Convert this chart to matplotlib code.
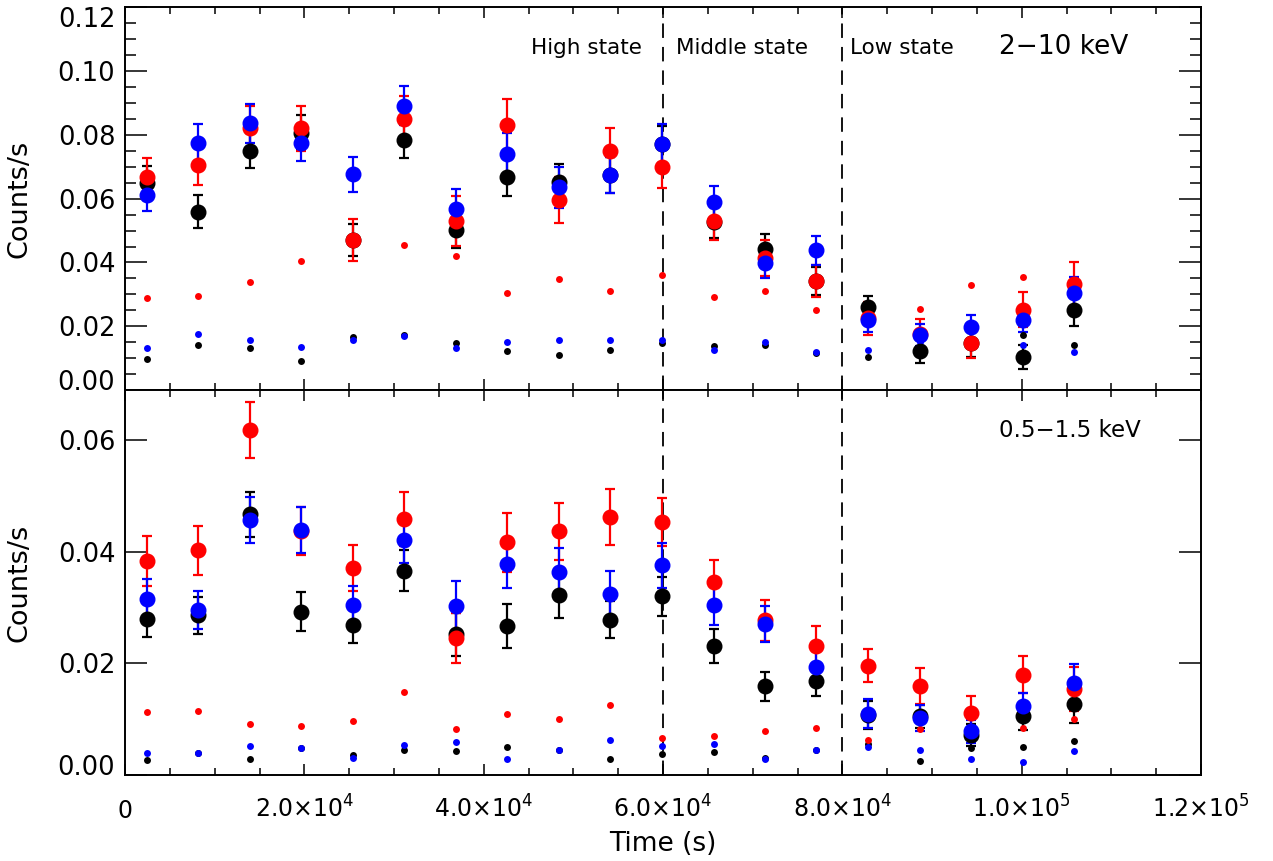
import matplotlib
matplotlib.use("Agg")
import matplotlib.pyplot as plt
from matplotlib.ticker import MultipleLocator, FixedLocator, FixedFormatter

plt.rcParams['font.family'] = ['DejaVu Sans']
plt.rcParams['mathtext.fontset'] = 'dejavusans'

# bin centres (s)
times = [2418, 8134, 13894, 19610, 25370, 31120, 36880, 42600, 48390, 54110,
         59865, 65630, 71380, 77060, 82860, 88610, 94370, 100090, 105850]

# 2-10 keV: source rates with errors, plus background rates
hard_black = [0.0650, 0.0559, 0.0750, 0.0807, 0.0471, 0.0783, 0.0502, 0.0669, 0.0653, 0.0675,
              0.0771, 0.0528, 0.0442, 0.0343, 0.0261, 0.0122, 0.0148, 0.0103, 0.0252]
hard_black_err = [0.0053, 0.0052, 0.0055, 0.0055, 0.0050, 0.0057, 0.0057, 0.0061, 0.0057, 0.0057,
                  0.0058, 0.0052, 0.0048, 0.0044, 0.0035, 0.0036, 0.0045, 0.0037, 0.0050]
hard_red = [0.0668, 0.0705, 0.0822, 0.0820, 0.0471, 0.0849, 0.0531, 0.0831, 0.0596, 0.0750,
            0.0700, 0.0529, 0.0414, 0.0343, 0.0225, 0.0177, 0.0146, 0.0252, 0.0333]
hard_red_err = [0.0061, 0.0062, 0.0068, 0.0070, 0.0066, 0.0073, 0.0078, 0.0080, 0.0072, 0.0070,
                0.0068, 0.0058, 0.0057, 0.0050, 0.0051, 0.0046, 0.0047, 0.0054, 0.0069]
hard_blue = [0.0613, 0.0776, 0.0836, 0.0776, 0.0676, 0.0892, 0.0569, 0.0741, 0.0635, 0.0675,
             0.0771, 0.0588, 0.0398, 0.0438, 0.0221, 0.0172, 0.0197, 0.0221, 0.0304]
hard_blue_err = [0.0052, 0.0059, 0.0060, 0.0058, 0.0055, 0.0062, 0.0062, 0.0066, 0.0063, 0.0057,
                 0.0062, 0.0052, 0.0046, 0.0046, 0.0040, 0.0035, 0.0037, 0.0039, 0.0050]
hard_black_bkg = [0.0096, 0.0141, 0.0131, 0.0092, 0.0166, 0.0174, 0.0148, 0.0122, 0.0109, 0.0125,
                  0.0148, 0.0138, 0.0142, 0.0115, 0.0104, 0.0130, 0.0140, 0.0171, 0.0142]
hard_red_bkg = [0.0288, 0.0294, 0.0339, 0.0406, 0.0460, 0.0455, 0.0419, 0.0305, 0.0349, 0.0309,
                0.0361, 0.0292, 0.0311, 0.0252, 0.0265, 0.0254, 0.0328, 0.0354, 0.0335]
hard_blue_bkg = [0.0131, 0.0177, 0.0156, 0.0134, 0.0156, 0.0169, 0.0131, 0.0152, 0.0158, 0.0157,
                 0.0157, 0.0125, 0.0150, 0.0120, 0.0127, 0.0150, 0.0160, 0.0141, 0.0119]

# 0.5-1.5 keV
soft_black = [0.0280, 0.0286, 0.0467, 0.0293, 0.0268, 0.0366, 0.0252, 0.0267, 0.0322, 0.0278,
              0.0320, 0.0231, 0.0159, 0.0169, 0.0108, 0.0105, 0.0072, 0.0105, 0.0127]
soft_black_err = [0.0032, 0.0033, 0.0040, 0.0035, 0.0032, 0.0037, 0.0039, 0.0040, 0.0040, 0.0033,
                  0.0035, 0.0031, 0.0026, 0.0028, 0.0025, 0.0021, 0.0020, 0.0024, 0.0033]
soft_red = [0.0383, 0.0403, 0.0619, 0.0437, 0.0371, 0.0459, 0.0246, 0.0417, 0.0437, 0.0462,
            0.0453, 0.0346, 0.0277, 0.0232, 0.0196, 0.0160, 0.0112, 0.0180, 0.0154]
soft_red_err = [0.0045, 0.0044, 0.0050, 0.0043, 0.0042, 0.0049, 0.0045, 0.0053, 0.0051, 0.0050,
                0.0043, 0.0039, 0.0036, 0.0035, 0.0030, 0.0032, 0.0029, 0.0033, 0.0039]
soft_blue = [0.0316, 0.0295, 0.0457, 0.0439, 0.0304, 0.0421, 0.0303, 0.0379, 0.0364, 0.0325,
             0.0376, 0.0304, 0.0271, 0.0193, 0.0110, 0.0102, 0.0078, 0.0123, 0.0165]
soft_blue_err = [0.0035, 0.0034, 0.0042, 0.0041, 0.0034, 0.0041, 0.0044, 0.0044, 0.0043, 0.0040,
                 0.0040, 0.0036, 0.0032, 0.0030, 0.0026, 0.0024, 0.0021, 0.0024, 0.0034]
soft_black_bkg = [0.0026, 0.0040, 0.0028, 0.0048, 0.0035, 0.0045, 0.0043, 0.0050, 0.0045, 0.0028,
                  0.0037, 0.0041, 0.0030, 0.0044, 0.0055, 0.0025, 0.0049, 0.0050, 0.0061]
soft_red_bkg = [0.0113, 0.0115, 0.0092, 0.0088, 0.0097, 0.0149, 0.0083, 0.0110, 0.0101, 0.0126,
                0.0067, 0.0070, 0.0079, 0.0084, 0.0063, 0.0083, 0.0075, 0.0085, 0.0100]
soft_blue_bkg = [0.0039, 0.0040, 0.0052, 0.0049, 0.0031, 0.0053, 0.0060, 0.0028, 0.0045, 0.0063,
                 0.0052, 0.0056, 0.0028, 0.0044, 0.0051, 0.0045, 0.0028, 0.0023, 0.0043]

state_edges = [6.0e4, 8.0e4]
xtick_vals = [0, 2.0e4, 4.0e4, 6.0e4, 8.0e4, 1.0e5, 1.2e5]
xtick_text = ['$0$', r'$2.0{\times}10^{4}$', r'$4.0{\times}10^{4}$', r'$6.0{\times}10^{4}$',
              r'$8.0{\times}10^{4}$', r'$1.0{\times}10^{5}$', r'$1.2{\times}10^{5}$']
hard_yticks = [0.0, 0.02, 0.04, 0.06, 0.08, 0.10, 0.12]
soft_yticks = [0.0, 0.02, 0.04, 0.06]

FS_Y = 18.5
FS_X = 17


def draw_panel(ax, src, bkg):
    for (y, e), col in zip(src, ['black', 'red', 'blue']):
        ax.errorbar(times, y, yerr=e, fmt='o', color=col, ms=10.5, elinewidth=1.6,
                    capsize=3.3, capthick=1.6, zorder=3)
    for y, col in zip(bkg, ['black', 'red', 'blue']):
        ax.plot(times, y, 'o', color=col, ms=5.0, mew=0, zorder=3)
    for xv in state_edges:
        ax.axvline(xv, color='black', lw=1.3, ls=(0, (8, 5)), zorder=1)
    ax.set_xlim(0, 1.2e5)
    ax.xaxis.set_major_locator(FixedLocator(xtick_vals))
    ax.xaxis.set_minor_locator(MultipleLocator(5000))
    ax.tick_params(axis='both', which='both', direction='in', top=True, right=True, width=1.1)
    ax.tick_params(axis='y', which='major', length=16, pad=7, labelsize=FS_Y)
    ax.tick_params(axis='y', which='minor', length=8)
    ax.tick_params(axis='x', which='major', length=8, pad=31, labelsize=FS_X)
    ax.tick_params(axis='x', which='minor', length=5)
    for sp in ax.spines.values():
        sp.set_linewidth(1.4)
    ax.set_ylabel('Counts/s', fontsize=19.5)
    ax.yaxis.set_label_coords(-0.0864, 0.5)


fig = plt.figure(figsize=(12.73, 8.61), dpi=100)
ax1 = fig.add_axes([0.0982, 0.547, 0.8453, 0.4449])
ax2 = fig.add_axes([0.0982, 0.0999, 0.8453, 0.4471])

draw_panel(ax1,
           [(hard_black, hard_black_err), (hard_red, hard_red_err), (hard_blue, hard_blue_err)],
           [hard_black_bkg, hard_red_bkg, hard_blue_bkg])
ax1.set_ylim(0, 0.1201)
ax1.yaxis.set_major_locator(FixedLocator(hard_yticks))
ax1.yaxis.set_minor_locator(MultipleLocator(0.005))
ax1.yaxis.set_major_formatter(plt.FormatStrFormatter('%.2f'))
ax1.tick_params(axis='x', labelbottom=False)

draw_panel(ax2,
           [(soft_black, soft_black_err), (soft_red, soft_red_err), (soft_blue, soft_blue_err)],
           [soft_black_bkg, soft_red_bkg, soft_blue_bkg])
ax2.set_ylim(0, 0.069)
ax2.yaxis.set_major_locator(FixedLocator(soft_yticks))
ax2.yaxis.set_minor_locator(FixedLocator([]))
ax2.yaxis.set_major_formatter(plt.FormatStrFormatter('%.2f'))
ax2.xaxis.set_major_formatter(FixedFormatter(xtick_text))
ax2.set_xlabel('Time (s)', fontsize=19, labelpad=6)

# x labels share a baseline; end y labels stay inside the frame
for lbl in ax2.get_xticklabels():
    lbl.set_verticalalignment('baseline')
ylabels1 = ax1.get_yticklabels()
ylabels1[0].set_verticalalignment('baseline')
ylabels1[-1].set_verticalalignment('top')
ax2.get_yticklabels()[0].set_verticalalignment('baseline')

# state labels and energy bands
ax1.text(57600, 0.1071, 'High state', fontsize=15.5, ha='right', va='center')
ax1.text(61500, 0.1071, 'Middle state', fontsize=15.5, ha='left', va='center')
ax1.text(80900, 0.1071, 'Low state', fontsize=15.5, ha='left', va='center')
ax1.text(97500, 0.1074, '2\u221210 keV', fontsize=19, ha='left', va='center')
ax2.text(97500, 0.0618, '0.5\u22121.5 keV', fontsize=16.5, ha='left', va='center')

fig.savefig('out.png', dpi=100)
